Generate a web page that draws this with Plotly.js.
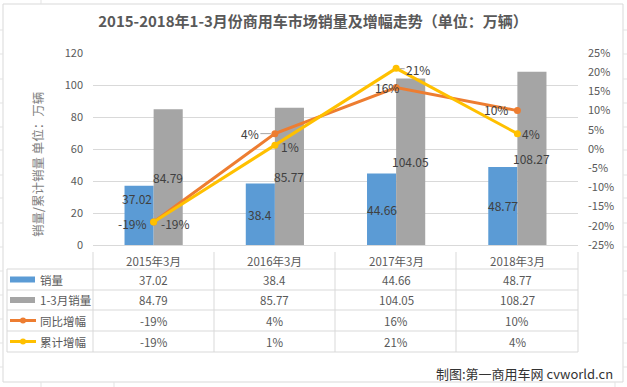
<!DOCTYPE html>
<html><head><meta charset="utf-8">
<script src="https://cdn.plot.ly/plotly-3.0.1.min.js"></script>
<style>html,body{margin:0;padding:0;background:#fff}</style>
</head><body><div id="chart" style="width:627px;height:387px"></div>
<script>
// ---- data ----
const categories = ['2015年3月', '2016年3月', '2017年3月', '2018年3月'];
const salesMarch = [37.02, 38.4, 44.66, 48.77];
const salesQ1 = [84.79, 85.77, 104.05, 108.27];
const yoyGrowth = [-19, 4, 16, 10];
const cumGrowth = [-19, 1, 21, 4];
const seriesNames = ['销量', '1-3月销量', '同比增幅', '累计增幅'];
const leftTicks = [0, 20, 40, 60, 80, 100, 120];
const rightTicks = [-25, -20, -15, -10, -5, 0, 5, 10, 15, 20, 25];
const titleText = '2015-2018年1-3月份商用车市场销量及增幅走势（单位：万辆）';
const yTitleText = '销量/累计销量 单位：万辆';
const sourceText = '制图:第一商用车网 cvworld.cn';

// ---- style / geometry ----
const W = 627, H = 387, L = 93, R = 578, T = 53, B = 245;
const px = x => (x - L) / (R - L);
const py = y => (B - y) / (B - T);
const FONT = '"Noto Sans CJK SC", "Noto Sans", sans-serif';
const C_BLUE = '#5B9BD5', C_GRAY = '#A5A5A5', C_ORANGE = '#ED7D31', C_YELLOW = '#FFC000';
const C_TEXT = '#595959', C_LABEL = '#404040', C_GRID = '#D9D9D9';
const pct = v => v + '%';

// label offsets (pixels): [xshift, yshift] or arrow {ax, ay}
const blueLabelShift = [[-2, 17], [0, 0], [0, 0], [0, 0]];
const orangeLabelCfg = [{xs: -21, ys: -2}, {ax: -25, ay: 0}, {xs: -9, ys: 0}, {xs: -21, ys: 1}];
const yellowLabelCfg = [{xs: 22, ys: -2}, {xs: 15, ys: -1}, {ax: 22, ay: 1}, {xs: 14, ys: 0}];

const traces = [
  {type: 'bar', name: seriesNames[0], x: categories, y: salesMarch, marker: {color: C_BLUE}, hoverinfo: 'skip'},
  {type: 'bar', name: seriesNames[1], x: categories, y: salesQ1, marker: {color: C_GRAY}, hoverinfo: 'skip'},
  {type: 'scatter', mode: 'lines+markers', name: seriesNames[2], x: categories, y: yoyGrowth, yaxis: 'y2',
   line: {color: C_ORANGE, width: 3}, marker: {color: C_ORANGE, size: 7}, hoverinfo: 'skip'},
  {type: 'scatter', mode: 'lines+markers', name: seriesNames[3], x: categories, y: cumGrowth, yaxis: 'y2',
   line: {color: C_YELLOW, width: 3}, marker: {color: C_YELLOW, size: 7}, hoverinfo: 'skip'}
];

const annotations = [];
const shapes = [];
const lblFont = {family: FONT, size: 12, color: C_LABEL};
const A = o => Object.assign({showarrow: false, xanchor: 'center', yanchor: 'middle'}, o);

// bar labels (centered in bars)
categories.forEach((c, i) => {
  annotations.push(A({x: c, y: salesMarch[i] / 2, xref: 'x', yref: 'y', text: String(salesMarch[i]),
    xshift: -14.5 + blueLabelShift[i][0], yshift: blueLabelShift[i][1], font: lblFont}));
  annotations.push(A({x: c, y: salesQ1[i] / 2, xref: 'x', yref: 'y', text: String(salesQ1[i]),
    xshift: 14.5, font: lblFont}));
});
// line labels
function lineLabel(c, v, cfg) {
  if (cfg.ax !== undefined) {
    return A({x: c, y: v, xref: 'x', yref: 'y2', text: pct(v), showarrow: true, ax: cfg.ax, ay: cfg.ay,
      arrowhead: 0, arrowwidth: 1, arrowcolor: '#A6A6A6', standoff: 4, font: lblFont});
  }
  return A({x: c, y: v, xref: 'x', yref: 'y2', text: pct(v), xshift: cfg.xs, yshift: cfg.ys, font: lblFont});
}
categories.forEach((c, i) => {
  annotations.push(lineLabel(c, yoyGrowth[i], orangeLabelCfg[i]));
  annotations.push(lineLabel(c, cumGrowth[i], yellowLabelCfg[i]));
});

// y-axis title
annotations.push(A({x: px(37), y: py(165), xref: 'paper', yref: 'paper', text: yTitleText, textangle: -90,
  font: {family: FONT, size: 12.5, color: '#7F7F7F'}}));
// source
annotations.push(A({x: px(615), y: py(373), xref: 'paper', yref: 'paper', xanchor: 'right', text: sourceText,
  font: {family: FONT, size: 13, color: '#333333'}}));

// ---- data table ----
const tblLeft = 7, tblHeaderTop = 252, rowLines = [269, 290, 310, 331, 352];
const headerCenter = 261, rowCenters = [279.5, 300, 320.5, 341.5];
const lineC = '#D9D9D9';
const colBounds = [93, 214, 335, 456, 578];
colBounds.forEach(xb => shapes.push({type: 'line', xref: 'paper', yref: 'paper', x0: px(xb), x1: px(xb),
  y0: py(tblHeaderTop), y1: py(rowLines[4]), line: {color: lineC, width: 1}}));
shapes.push({type: 'line', xref: 'paper', yref: 'paper', x0: px(tblLeft), x1: px(tblLeft),
  y0: py(rowLines[0]), y1: py(rowLines[4]), line: {color: lineC, width: 1}});
rowLines.forEach(yb => shapes.push({type: 'line', xref: 'paper', yref: 'paper', x0: px(tblLeft), x1: px(578),
  y0: py(yb), y1: py(yb), line: {color: lineC, width: 1}}));

const tblFont = {family: FONT, size: 11.5, color: C_TEXT};
categories.forEach((c, i) => {
  annotations.push(A({x: c, y: py(headerCenter), xref: 'x', yref: 'paper', text: c, font: tblFont}));
  const rowVals = [String(salesMarch[i]), String(salesQ1[i]), pct(yoyGrowth[i]), pct(cumGrowth[i])];
  rowVals.forEach((t, r) => annotations.push(A({x: c, y: py(rowCenters[r]), xref: 'x', yref: 'paper', text: t,
    font: tblFont})));
});
// legend keys in table
const keyColors = [C_BLUE, C_GRAY, C_ORANGE, C_YELLOW];
seriesNames.forEach((n, r) => {
  const yc = rowCenters[r];
  if (r < 2) {
    shapes.push({type: 'rect', xref: 'paper', yref: 'paper', x0: px(10), x1: px(35), y0: py(yc - 3), y1: py(yc + 3),
      fillcolor: keyColors[r], line: {width: 0}});
  } else {
    shapes.push({type: 'line', xref: 'paper', yref: 'paper', x0: px(10), x1: px(36), y0: py(yc), y1: py(yc),
      line: {color: keyColors[r], width: 3}});
    shapes.push({type: 'circle', xref: 'paper', yref: 'paper', x0: px(20), x1: px(26), y0: py(yc - 3), y1: py(yc + 3),
      fillcolor: keyColors[r], line: {width: 0}});
  }
  annotations.push(A({x: px(38), y: py(yc), xref: 'paper', yref: 'paper', xanchor: 'left', text: n, font: tblFont}));
});

// chart border
shapes.push({type: 'rect', xref: 'paper', yref: 'paper', x0: px(3), x1: px(623), y0: py(4), y1: py(382),
  line: {color: '#D9D9D9', width: 1}, fillcolor: 'rgba(0,0,0,0)', layer: 'below'});
// faint spreadsheet grid outside the chart
const sheetRows = [30, 54, 79, 103, 127, 150, 175, 198, 223, 247, 271, 295, 319, 343, 367];
sheetRows.forEach(yr => {
  shapes.push({type: 'line', xref: 'paper', yref: 'paper', x0: px(0), x1: px(3), y0: py(yr), y1: py(yr), line: {color: '#E3E3E3', width: 1}});
  shapes.push({type: 'line', xref: 'paper', yref: 'paper', x0: px(623), x1: px(627), y0: py(yr), y1: py(yr), line: {color: '#E3E3E3', width: 1}});
});
[41, 114, 615].forEach(xc => {
  shapes.push({type: 'line', xref: 'paper', yref: 'paper', x0: px(xc), x1: px(xc), y0: py(382), y1: py(387), line: {color: '#E3E3E3', width: 1}});
});
[41].forEach(xc => {
  shapes.push({type: 'line', xref: 'paper', yref: 'paper', x0: px(xc), x1: px(xc), y0: py(0), y1: py(4), line: {color: '#E3E3E3', width: 1}});
});

const layout = {
  width: W, height: H,
  margin: {l: L, r: W - R, t: T, b: H - B, pad: 0},
  paper_bgcolor: '#FFFFFF', plot_bgcolor: '#FFFFFF',
  showlegend: false,
  barmode: 'group', bargap: 0.52, bargroupgap: 0,
  font: {family: FONT, color: C_TEXT},
  title: {text: '<b>' + titleText + '</b>', x: 313 / W, y: 1 - 22 / H, xref: 'container', yref: 'container',
    xanchor: 'center', yanchor: 'middle', font: {family: FONT, size: 15, color: C_TEXT}},
  xaxis: {type: 'category', range: [-0.5, 3.5], showticklabels: false, ticks: '', showgrid: false,
    showline: true, linecolor: C_GRID, linewidth: 1, zeroline: false, fixedrange: true},
  yaxis: {range: [0, 120], tickvals: leftTicks, ticktext: leftTicks.map(String), gridcolor: C_GRID, gridwidth: 1,
    showline: false, zeroline: false, ticks: '', ticklabelstandoff: 9,
    tickfont: {family: FONT, size: 11, color: C_TEXT}, fixedrange: true},
  yaxis2: {overlaying: 'y', side: 'right', range: [-25, 25], tickvals: rightTicks, ticktext: rightTicks.map(pct),
    showgrid: false, zeroline: false, showline: false, ticks: '', ticklabelstandoff: 9,
    tickfont: {family: FONT, size: 11, color: C_TEXT}, fixedrange: true},
  annotations: annotations,
  shapes: shapes
};

Plotly.newPlot('chart', traces, layout, {staticPlot: true, displayModeBar: false});
</script>
</body></html>
